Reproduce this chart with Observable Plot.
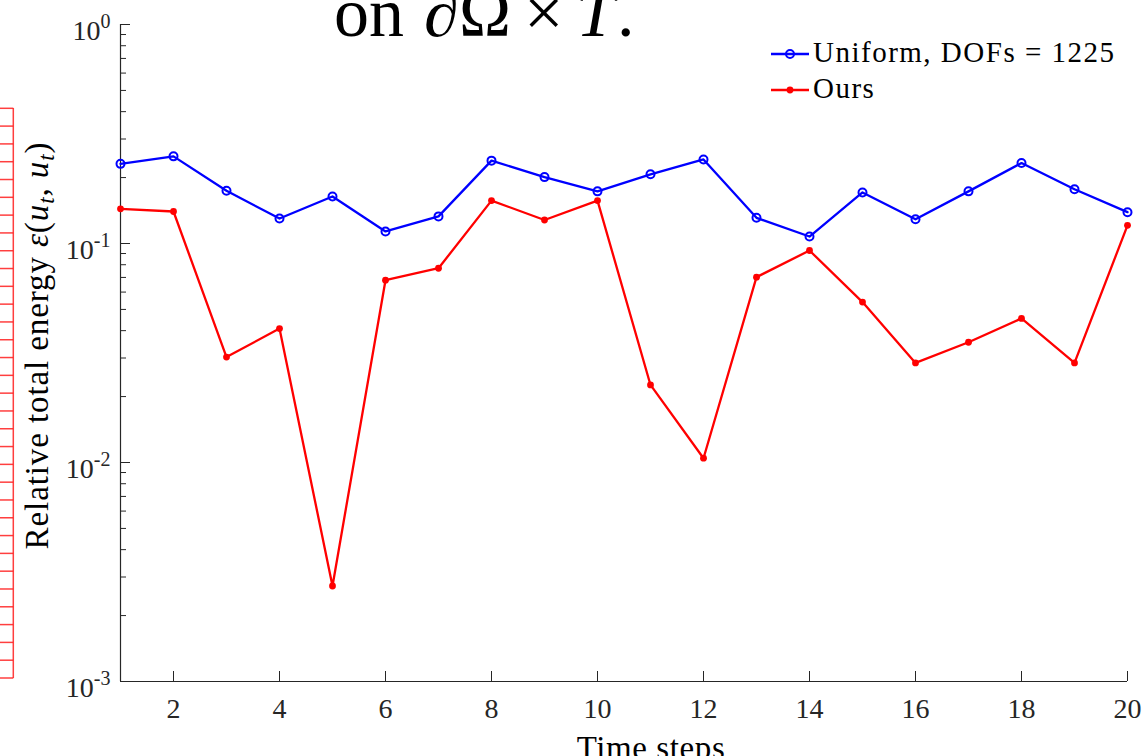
<!DOCTYPE html>
<html><head><meta charset="utf-8">
<script src="https://cdn.jsdelivr.net/npm/d3@7"></script>
<script src="https://cdn.jsdelivr.net/npm/@observablehq/plot@0.6"></script>
<style>
html,body{margin:0;padding:0;background:#fff;}
#chart{position:relative;width:1148px;height:756px;overflow:hidden;}
</style></head><body><div id="chart"></div>
<script>
// ---- data ----
const steps   = [1,2,3,4,5,6,7,8,9,10,11,12,13,14,15,16,17,18,19,20];
const uniform = [0.231,0.250,0.174,0.130,0.164,0.1135,0.133,0.239,0.201,0.173,0.207,0.242,0.131,0.1076,0.171,0.129,0.173,0.233,0.177,0.139];
const ours    = [0.144,0.140,0.0303,0.0409,0.00273,0.068,0.0771,0.157,0.128,0.157,0.0226,0.01046,0.0702,0.0929,0.054,0.0285,0.0354,0.0455,0.0285,0.121];
const seriesNames = ["Uniform, DOFs = 1225", "Ours"];
const xTicks = [2,4,6,8,10,12,14,16,18,20];
const yTicks = [0.001,0.01,0.1,1];
const yTickLabels = ["10^-3","10^-2","10^-1","10^0"];
const xLabel = "Time steps";
const yLabel = "Relative total energy ε(u_t, u_t)";

// ---- layout ----
const W = 1148, H = 756, mL = 120, mR = 21, mT = 24, mB = 75;
const pw = W - mL - mR, ph = H - mT - mB;
const axisColor = "#262626";
const blue = "#0000ff", red = "#ff0000";
const font = "'Liberation Serif', 'Times New Roman', serif";

const uniRows = steps.map((s, i) => ({step: s, value: uniform[i]}));
const ourRows = steps.map((s, i) => ({step: s, value: ours[i]}));
const minorTicks = [];
for (const decade of [0.001, 0.01, 0.1]) for (const m of [2,3,4,5,6,7,8,9]) minorTicks.push(m * decade);

const chart = Plot.plot({
  width: W, height: H,
  marginLeft: mL, marginRight: mR, marginTop: mT, marginBottom: mB,
  x: {domain: [steps[0], steps[steps.length - 1]]},
  y: {type: "log", domain: [yTicks[0], yTicks[yTicks.length - 1]]},
  style: {fontFamily: font, background: "white", color: axisColor},
  marks: [
    Plot.axisX({ticks: xTicks, tickSize: 0, tickPadding: 17, fontSize: 28, label: null, color: axisColor}),
    Plot.axisY({ticks: yTicks, tickSize: 0, tickPadding: 10, fontSize: 28, label: null, dy: 7, color: axisColor,
                tickFormat: d => yTickLabels[yTicks.indexOf(d)]}),
    Plot.ruleY(minorTicks, {stroke: axisColor, strokeWidth: 1, insetRight: pw - 6}),
    Plot.ruleY(yTicks, {stroke: axisColor, strokeWidth: 1, insetRight: pw - 10}),
    Plot.ruleX(xTicks, {stroke: axisColor, strokeWidth: 1, insetTop: ph - 10}),
    Plot.ruleX([steps[0]], {stroke: axisColor, strokeWidth: 1.2}),
    Plot.ruleY([yTicks[0]], {stroke: axisColor, strokeWidth: 1.2}),
    Plot.line(uniRows, {x: "step", y: "value", stroke: blue, strokeWidth: 2.3}),
    Plot.dot(uniRows, {x: "step", y: "value", r: 4, stroke: blue, strokeWidth: 2, fill: "none"}),
    Plot.line(ourRows, {x: "step", y: "value", stroke: red, strokeWidth: 2.3}),
    Plot.dot(ourRows, {x: "step", y: "value", r: 3.4, fill: red, stroke: "none"}),
    Plot.text([xLabel], {text: d => d, frameAnchor: "bottom", lineAnchor: "bottom", textAnchor: "middle", dx: 27, dy: 77,
                         fontSize: 33, fill: "#000"}),
    Plot.text([yLabel], {text: d => d, frameAnchor: "left", lineAnchor: "bottom", textAnchor: "middle", rotate: -90, dx: -73, dy: -7.5,
                         fontSize: 33, fill: "#000"})
  ]
});

const svg = d3.select(chart);

// superscript tick labels
svg.selectAll('g[aria-label="y-axis tick label"] text').each(function() {
  const t = d3.select(this);
  const s = t.text();
  const [base, exp] = s.split("^");
  t.text(null);
  t.append("tspan").text(base);
  t.append("tspan").attr("font-size", 20).attr("dy", -12).text(exp);
});

// axis labels
svg.selectAll("text").each(function() {
  const t = d3.select(this);
  const s = t.text();
  if (s === yLabel) {
    t.text(null).style("letter-spacing", "0.9px");
    t.append("tspan").text("Relative total energy ");
    t.append("tspan").attr("font-style", "italic").text("ε");
    t.append("tspan").text("(");
    t.append("tspan").attr("font-style", "italic").text("u");
    t.append("tspan").attr("font-style", "italic").attr("font-size", 23).attr("dy", 6).text("t");
    t.append("tspan").attr("dy", -6).text(", ");
    t.append("tspan").attr("font-style", "italic").text("u");
    t.append("tspan").attr("font-style", "italic").attr("font-size", 23).attr("dy", 6).text("t");
    t.append("tspan").attr("dy", -6).text(")");
  } else if (s === xLabel) {
    t.style("letter-spacing", "0.6px");
  }
});

// title fragment (cut off at top)
const tg = svg.append("g").attr("font-family", font).attr("font-size", 70).attr("fill", "#000").attr("text-anchor", "start");
tg.append("text").attr("x", 334).attr("y", 36).text("on");
tg.append("text").attr("x", 424).attr("y", 36).attr("font-style", "italic").text("∂");
tg.append("text").attr("x", 459).attr("y", 36).text("Ω");
tg.append("text").attr("x", 524).attr("y", 36).text("×");
tg.append("text").attr("x", 576).attr("y", 36).attr("font-style", "italic").text("T");
tg.append("text").attr("x", 617).attr("y", 36).text(".");

// legend
const lg = svg.append("g").attr("font-family", font).attr("font-size", 29).attr("fill", "#000").attr("text-anchor", "start");
const legendItems = [
  {name: seriesNames[0], color: blue, open: true, y: 54},
  {name: seriesNames[1], color: red, open: false, y: 90}
];
for (const it of legendItems) {
  lg.append("line").attr("x1", 771).attr("x2", 809).attr("y1", it.y).attr("y2", it.y)
    .attr("stroke", it.color).attr("stroke-width", 2.3);
  if (it.open) lg.append("circle").attr("cx", 790).attr("cy", it.y).attr("r", 4).attr("fill", "none").attr("stroke", it.color).attr("stroke-width", 2);
  else lg.append("circle").attr("cx", 790).attr("cy", it.y).attr("r", 3.4).attr("fill", it.color);
  lg.append("text").attr("x", 813).attr("y", it.y + 8).style("letter-spacing", "1.5px").text(it.name);
}

// red strip artifact at left edge
const rg = svg.append("g").attr("stroke", "#ff2a2a").attr("stroke-opacity", 0.9).attr("stroke-width", 1.5).attr("fill", "none");
rg.append("line").attr("x1", 13.3).attr("x2", 13.3).attr("y1", 108).attr("y2", 678);
for (let i = 0; i <= 32; i++) {
  const yy = 108.3 + i * (678 - 108.3) / 32;
  rg.append("line").attr("x1", 0).attr("x2", 13.3).attr("y1", yy).attr("y2", yy);
}

document.getElementById("chart").appendChild(chart);
</script></body></html>
